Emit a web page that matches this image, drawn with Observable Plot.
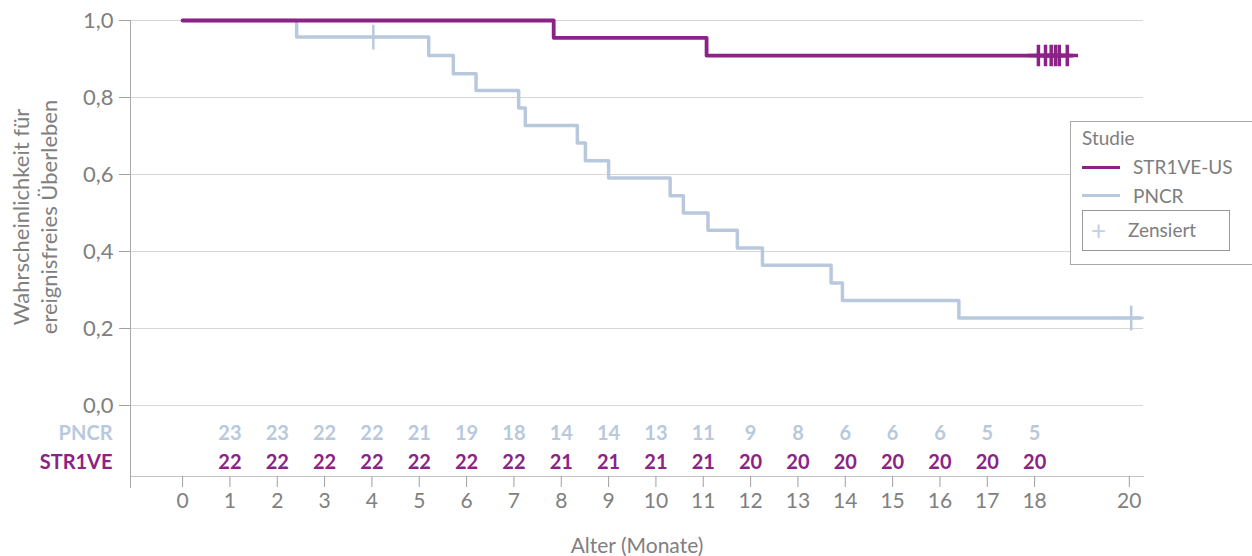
<!DOCTYPE html>
<html>
<head>
<meta charset="utf-8">
<script src="https://cdn.jsdelivr.net/npm/d3@7"></script>
<script src="https://cdn.jsdelivr.net/npm/@observablehq/plot@0.6"></script>
<style>
  html, body { margin: 0; padding: 0; background: #fff; }
  #wrap { position: relative; width: 1252px; height: 556px; overflow: hidden; font-family: Lato, "Open Sans", sans-serif; }
  #wrap svg { display: block; }
  #legend { position: absolute; left: 1070px; top: 121px; width: 220px; height: 144px; border: 1px solid #aaaaaa; box-sizing: border-box; background: #fff; color: #7e7e7e; }
  #legend .t { position: absolute; font-size: 19px; line-height: 22px; white-space: nowrap; }
  #legend .sw { position: absolute; height: 3px; width: 38px; }
  #legend .inner { position: absolute; left: 11px; top: 88px; width: 148px; height: 41px; border: 1px solid #999; box-sizing: border-box; }
</style>
</head>
<body>
<div id="wrap">
  <div id="chart"></div>
  <div id="legend">
    <div class="t" style="left:11px; top:5px; font-size:19px;">Studie</div>
    <div class="sw" style="left:11px; top:44px; background:#8b2386;"></div>
    <div class="t" style="left:62px; top:34px;">STR1VE-US</div>
    <div class="sw" style="left:11px; top:72px; background:#b9c9dd;"></div>
    <div class="t" style="left:62px; top:63px;">PNCR</div>
    <div class="inner">
      <div class="t" style="left:8px; top:6px; color:#c3d0e2; font-size:26px; line-height:26px;">+</div>
      <div class="t" style="left:45px; top:8px;">Zensiert</div>
    </div>
  </div>
</div>
<script>
// ---- data ----
const pncrTimes = [0, 2.41, 5.2, 5.72, 6.2, 7.1, 7.24, 8.34, 8.51, 9.0, 10.3, 10.58, 11.1, 11.72, 12.25, 13.7, 13.94, 16.4, 20.23];
const pncrSurv  = [1, 0.957, 0.909, 0.862, 0.818, 0.773, 0.727, 0.682, 0.636, 0.591, 0.545, 0.5, 0.455, 0.409, 0.364, 0.318, 0.273, 0.227, 0.227];
const striveTimes = [0, 7.84, 11.07, 18.8];
const striveSurv  = [1, 0.955, 0.909, 0.909];
const pncrCensorTimes = [4.03, 20.04];
const pncrCensorSurv  = [0.957, 0.227];
const striveCensorTimes = [18.08, 18.23, 18.35, 18.44, 18.52, 18.69];
const striveCensorSurv  = [0.909, 0.909, 0.909, 0.909, 0.909, 0.909];
const riskMonths = [1,2,3,4,5,6,7,8,9,10,11,12,13,14,15,16,17,18];
const pncrRisk   = [23,23,22,22,21,19,18,14,14,13,11,9,8,6,6,6,5,5];
const striveRisk = [22,22,22,22,22,22,22,21,21,21,21,20,20,20,20,20,20,20];
const riskRows = ["PNCR", "STR1VE"];
const xTicks = [0,1,2,3,4,5,6,7,8,9,10,11,12,13,14,15,16,17,18,20];
const yTicks = [0, 0.2, 0.4, 0.6, 0.8, 1.0];
const yTitle = "Wahrscheinlichkeit für\nereignisfreies Überleben";
const xTitle = "Alter (Monate)";

// ---- styles ----
const PURPLE = "#8b2386";
const LIGHT = "#b9c9dd";
const TEXT = "#808080";
const xDomain = [-1.1, 20.3];
const FONT = "Lato, 'Open Sans', sans-serif";

const toPts = (t, s) => t.map((x, i) => ({x, y: s[i]}));
const pncr = toPts(pncrTimes, pncrSurv);
const strive = toPts(striveTimes, striveSurv);
const pncrC = toPts(pncrCensorTimes, pncrCensorSurv);
const striveC = toPts(striveCensorTimes, striveCensorSurv);

const common = {
  width: 1252,
  marginLeft: 130,
  marginRight: 109,
  style: {fontFamily: FONT, background: "#fff", color: TEXT, overflow: "visible"}
};

const topPlot = Plot.plot({
  ...common,
  height: 418,
  marginTop: 20,
  marginBottom: 13,
  x: {domain: xDomain, axis: null},
  y: {domain: [0, 1], axis: null},
  marks: [
    Plot.gridY(yTicks, {stroke: "#d6d6d6", strokeOpacity: 1}),
    Plot.axisY({ticks: yTicks, tickFormat: d => d.toFixed(1).replace(".", ","), tickSize: 11, tickPadding: 6, fontSize: 22, stroke: "#a0a0a0", fill: TEXT, label: null}),
    Plot.ruleX([xDomain[0]], {stroke: "#a8a8a8", insetBottom: -13}),
    Plot.text([yTitle], {frameAnchor: "left", rotate: -90, dx: -96, dy: 4, fontSize: 22, lineHeight: 1.27, fill: TEXT, textAnchor: "middle", lineAnchor: "middle"}),
    Plot.line(pncr, {x: "x", y: "y", curve: "step-after", stroke: LIGHT, strokeWidth: 3.5}),
    Plot.line(strive, {x: "x", y: "y", curve: "step-after", stroke: PURPLE, strokeWidth: 3.8}),
    Plot.dot(pncrC, {x: "x", y: "y", symbol: "plus", r: 8, stroke: LIGHT, strokeWidth: 2.5}),
    Plot.dot(striveC, {x: "x", y: "y", symbol: "plus", r: 7, stroke: PURPLE, strokeWidth: 3.5})
  ]
});

const pRows = riskMonths.map((m, i) => ({m, row: riskRows[0], n: pncrRisk[i]}));
const sRows = riskMonths.map((m, i) => ({m, row: riskRows[1], n: striveRisk[i]}));

const bottomPlot = Plot.plot({
  ...common,
  height: 138,
  marginTop: 0,
  marginBottom: 80,
  x: {domain: xDomain, axis: null},
  y: {type: "point", domain: riskRows, axis: null, padding: 0.5},
  marks: [
    Plot.frame({anchor: "bottom", stroke: "#c4c4c4"}),
    Plot.ruleX([xDomain[0]], {stroke: "#a8a8a8", insetBottom: -12}),
    Plot.axisX({ticks: xTicks, tickSize: 11, tickPadding: 6, fontSize: 21, stroke: "#a0a0a0", fill: TEXT, label: null}),
    Plot.text([xTitle], {frameAnchor: "bottom", dy: 70, fontSize: 21, fill: TEXT, lineAnchor: "middle"}),
    Plot.text([riskRows[0]], {frameAnchor: "left", y: d => d, dx: -18, textAnchor: "end", fontSize: 20, fontWeight: "bold", fill: LIGHT}),
    Plot.text([riskRows[1]], {frameAnchor: "left", y: d => d, dx: -18, textAnchor: "end", fontSize: 20, fontWeight: "bold", fill: PURPLE}),
    Plot.text(pRows, {x: "m", y: "row", text: "n", fontSize: 20, fontWeight: "bold", fill: LIGHT}),
    Plot.text(sRows, {x: "m", y: "row", text: "n", fontSize: 20, fontWeight: "bold", fill: PURPLE})
  ]
});

const chart = document.getElementById("chart");
chart.appendChild(topPlot);
chart.appendChild(bottomPlot);
</script>
</body>
</html>
